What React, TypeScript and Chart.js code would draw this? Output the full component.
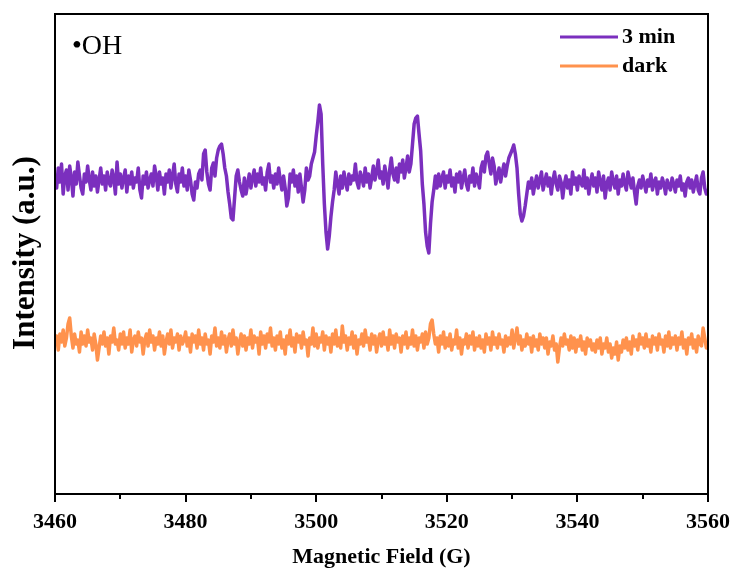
import React, { useEffect, useRef } from "react";
import { Chart, registerables } from "chart.js";

Chart.register(...registerables);

// Field sweep: 3460 G to 3560 G sampled every 0.25 G (401 points)
const FIELD_START = 3460;
const FIELD_STEP = 0.25;

// x-axis ticks
const X_MAJOR_TICKS = [3460, 3480, 3500, 3520, 3540, 3560];
const X_MINOR_TICKS = [3470, 3490, 3510, 3530, 3550];
const X_TICK_LABELS = ["3460", "3480", "3500", "3520", "3540", "3560"];

const SERIES_LABELS = ["3 min", "dark"];
const SERIES_COLORS = ["#7B2FBE", "#FF924D"];

// EPR signal after 3 min irradiation (DMPO-•OH quartet)
const IRRADIATED = [
  320, 306, 326, 312, 330, 300, 318, 324, 304, 328,
  316, 298, 322, 310, 332, 318, 306, 300, 320, 312,
  328, 314, 304, 322, 308, 318, 302, 314, 326, 310,
  318, 304, 322, 312, 308, 324, 316, 300, 332, 310,
  320, 306, 316, 324, 302, 318, 310, 322, 306, 316,
  312, 326, 304, 296, 318, 310, 322, 306, 314, 320,
  308, 328, 318, 304, 322, 310, 316, 300, 320, 312,
  324, 306, 318, 330, 310, 302, 320, 312, 326, 308,
  318, 304, 324, 314, 300, 294, 312, 306, 320, 324,
  314, 340, 344, 322, 310, 304, 326, 331, 318, 336,
  344, 348, 350, 340, 326, 318, 302, 290, 276, 274,
  296, 318, 324, 312, 304, 298, 316, 300, 310, 320,
  306, 316, 324, 308, 320, 312, 326, 310, 316, 304,
  322, 330, 312, 318, 306, 320, 310, 326, 314, 304,
  318, 306, 288, 296, 320, 312, 324, 308, 318, 302,
  320, 306, 292, 304, 326, 314, 318, 330, 336, 342,
  358, 372, 389, 380, 330, 290, 262, 245, 258, 277,
  292, 304, 322, 310, 300, 318, 306, 322, 312, 304,
  320, 310, 318, 314, 330, 312, 306, 322, 316, 308,
  326, 312, 320, 306, 316, 328, 314, 322, 334, 316,
  322, 310, 328, 318, 306, 324, 336, 320, 314, 326,
  312, 330, 322, 334, 316, 326, 338, 322, 330, 350,
  370, 376, 378, 360, 343, 310, 290, 262, 248, 241,
  270, 292, 304, 318, 306, 320, 308, 316, 322, 306,
  318, 312, 324, 308, 316, 302, 320, 312, 322, 306,
  316, 324, 310, 304, 318, 312, 326, 308, 320, 314,
  306, 326, 332, 322, 338, 342, 330, 320, 336, 328,
  310, 318, 326, 312, 322, 330, 318, 328, 336, 340,
  344, 349, 340, 326, 300, 280, 273, 278, 288, 300,
  312, 306, 316, 300, 310, 318, 306, 314, 322, 304,
  312, 320, 308, 316, 300, 314, 322, 310, 304, 318,
  312, 296, 310, 318, 306, 314, 300, 322, 310, 316,
  304, 318, 312, 308, 324, 306, 316, 300, 312, 320,
  308, 316, 302, 322, 312, 304, 318, 296, 310, 316,
  304, 322, 312, 306, 318, 300, 314, 308, 320, 310,
  304, 322, 314, 306, 316, 302, 290, 308, 314, 306,
  318, 310, 302, 314, 308, 320, 304, 312, 316, 300,
  312, 306, 316, 310, 300, 314, 308, 304, 316, 310,
  302, 314, 308, 318, 304, 310, 298, 312, 316, 306,
  314, 302, 310, 318, 304, 300, 316, 322, 306, 300,
  304,
];

// EPR signal in the dark
const DARK = [
  150, 158, 144, 160, 152, 164, 148, 156, 170, 176,
  158, 146, 160, 150, 154, 142, 162, 150, 158, 148,
  164, 152, 156, 144, 160, 150, 134, 146, 158, 150,
  162, 148, 156, 140, 158, 152, 166, 150, 154, 144,
  160, 150, 162, 146, 156, 150, 164, 142, 154, 158,
  148, 162, 152, 156, 140, 154, 160, 148, 164, 152,
  158, 144, 156, 150, 162, 148, 158, 140, 152, 160,
  150, 164, 146, 156, 152, 160, 144, 158, 150, 154,
  162, 148, 156, 142, 160, 152, 158, 146, 164, 150,
  156, 144, 160, 150, 154, 140, 158, 152, 166, 148,
  156, 146, 162, 150, 158, 142, 154, 160, 148, 164,
  150, 156, 140, 152, 160, 148, 158, 144, 156, 150,
  164, 146, 158, 152, 156, 140, 162, 150, 158, 146,
  160, 152, 166, 148, 156, 144, 158, 150, 162, 146,
  154, 140, 158, 150, 164, 148, 156, 142, 160, 152,
  158, 146, 162, 150, 154, 138, 156, 150, 166, 148,
  160, 146, 156, 152, 162, 144, 158, 150, 156, 142,
  160, 150, 164, 148, 156, 146, 168, 152, 158, 144,
  156, 150, 162, 146, 158, 140, 154, 150, 160, 148,
  164, 152, 156, 144, 160, 150, 158, 142, 154, 160,
  148, 162, 150, 156, 144, 164, 150, 158, 146, 160,
  152, 156, 142, 158, 150, 162, 146, 156, 150, 164,
  148, 158, 144, 156, 152, 160, 146, 162, 150, 156,
  170, 174, 160, 150, 156, 142, 158, 150, 162, 146,
  156, 148, 160, 144, 154, 150, 164, 146, 156, 140,
  154, 150, 160, 146, 158, 150, 162, 144, 156, 148,
  158, 146, 154, 142, 160, 150, 156, 144, 162, 150,
  156, 146, 160, 150, 154, 142, 158, 148, 156, 150,
  164, 146, 156, 166, 150, 158, 144, 154, 148, 160,
  150, 156, 142, 158, 148, 154, 144, 160, 150, 156,
  146, 156, 140, 152, 148, 158, 144, 150, 132, 146,
  156, 148, 160, 150, 154, 144, 158, 146, 156, 142,
  154, 148, 158, 144, 152, 140, 156, 148, 154, 144,
  150, 142, 154, 146, 156, 140, 150, 146, 156, 142,
  150, 136, 146, 140, 152, 134, 148, 142, 154, 146,
  156, 144, 152, 140, 158, 148, 154, 144, 160, 150,
  156, 146, 160, 148, 154, 142, 158, 150, 156, 144,
  160, 150, 154, 142, 158, 148, 162, 146, 156, 150,
  158, 144, 156, 150, 162, 146, 154, 140, 156, 150,
  160, 146, 154, 142, 158, 150, 148, 166, 156, 146,
  152,
];

const toPoints = (values: number[]) =>
  values.map((y, i) => ({ x: FIELD_START + i * FIELD_STEP, y }));

const SERIF = '"Liberation Serif", "Times New Roman", serif';

// Frame, tick marks, axis labels, legend and the species label
const decorations = {
  id: "decorations",
  afterDatasetsDraw(chart: any) {
    const { ctx, chartArea: a, scales } = chart;
    const xs = scales.x;
    ctx.save();

    ctx.strokeStyle = "#000";
    ctx.lineWidth = 2;
    ctx.strokeRect(a.left, a.top, a.right - a.left, a.bottom - a.top);

    ctx.beginPath();
    X_MAJOR_TICKS.forEach((v) => {
      const px = Math.round(xs.getPixelForValue(v));
      ctx.moveTo(px, a.bottom);
      ctx.lineTo(px, a.bottom + 8);
    });
    X_MINOR_TICKS.forEach((v) => {
      const px = Math.round(xs.getPixelForValue(v));
      ctx.moveTo(px, a.bottom);
      ctx.lineTo(px, a.bottom + 5);
    });
    ctx.stroke();

    ctx.fillStyle = "#000";
    ctx.textAlign = "center";
    ctx.textBaseline = "middle";
    ctx.font = `bold 22px ${SERIF}`;
    X_MAJOR_TICKS.forEach((v, i) => {
      ctx.fillText(X_TICK_LABELS[i], xs.getPixelForValue(v), 522);
    });

    ctx.font = `bold 22px ${SERIF}`;
    ctx.fillText("Magnetic Field (G)", (a.left + a.right) / 2, 557);

    ctx.save();
    ctx.translate(26, 253);
    ctx.rotate(-Math.PI / 2);
    ctx.font = `bold 31px ${SERIF}`;
    ctx.fillText("Intensity (a.u.)", 0, 0);
    ctx.restore();

    ctx.textAlign = "left";
    ctx.font = `28px ${SERIF}`;
    ctx.fillText("\u2022OH", 72, 47);

    const legendY = [37, 66];
    SERIES_LABELS.forEach((label, i) => {
      ctx.strokeStyle = SERIES_COLORS[i];
      ctx.lineWidth = 3;
      ctx.beginPath();
      ctx.moveTo(560, legendY[i]);
      ctx.lineTo(618, legendY[i]);
      ctx.stroke();
      ctx.fillStyle = "#000";
      ctx.font = `bold 22px ${SERIF}`;
      ctx.fillText(label, 622, legendY[i]);
    });

    ctx.restore();
  },
};

export default function App() {
  const canvasRef = useRef<HTMLCanvasElement | null>(null);

  useEffect(() => {
    const canvas = canvasRef.current;
    if (!canvas) return;
    const chart = new Chart(canvas, {
      type: "line",
      data: {
        datasets: [
          {
            label: SERIES_LABELS[0],
            data: toPoints(IRRADIATED),
            borderColor: SERIES_COLORS[0],
            borderWidth: 3.5,
            pointRadius: 0,
            tension: 0,
            borderJoinStyle: "round",
          },
          {
            label: SERIES_LABELS[1],
            data: toPoints(DARK),
            borderColor: SERIES_COLORS[1],
            borderWidth: 3.5,
            pointRadius: 0,
            tension: 0,
            borderJoinStyle: "round",
          },
        ],
      },
      options: {
        animation: false,
        responsive: false,
        devicePixelRatio: 1,
        layout: { padding: { left: 55, right: 28, top: 14, bottom: 81 } },
        plugins: {
          legend: { display: false },
          tooltip: { enabled: false },
        },
        scales: {
          x: { type: "linear", min: 3460, max: 3560, display: false },
          y: { type: "linear", min: 0, max: 480, display: false },
        },
      },
      plugins: [decorations],
    });
    return () => chart.destroy();
  }, []);

  return (
    <div style={{ position: "fixed", left: 0, top: 0, width: 736, height: 575, background: "#fff" }}>
      <canvas ref={canvasRef} width={736} height={575} style={{ width: 736, height: 575 }} />
    </div>
  );
}
